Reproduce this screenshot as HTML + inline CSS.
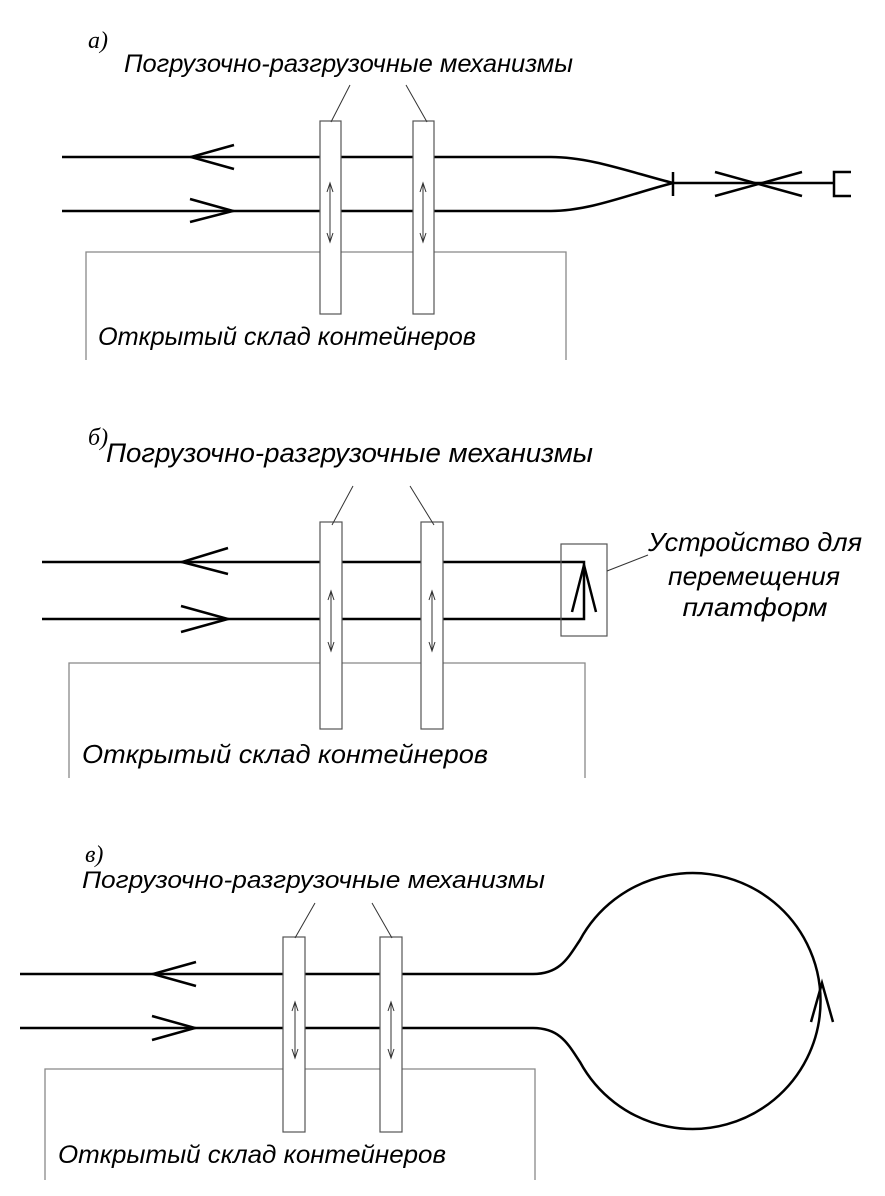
<!DOCTYPE html>
<html><head><meta charset="utf-8"><style>html,body{margin:0;padding:0;background:#fff}svg{display:block}</style></head>
<body>
<svg width="885" height="1196" viewBox="0 0 885 1196" xmlns="http://www.w3.org/2000/svg">
<g font-family="Liberation Sans, Arial, sans-serif" font-style="italic" fill="#000">
<text x="88" y="48" font-family="Liberation Serif, serif" font-size="24">а)</text>
<text x="124" y="72" font-size="25" textLength="449" lengthAdjust="spacingAndGlyphs">Погрузочно-разгрузочные механизмы</text>
<text x="98" y="345" font-size="25" textLength="378" lengthAdjust="spacingAndGlyphs">Открытый склад контейнеров</text>
<text x="88" y="445" font-family="Liberation Serif, serif" font-size="24">б)</text>
<text x="106" y="462" font-size="27" textLength="487" lengthAdjust="spacingAndGlyphs">Погрузочно-разгрузочные механизмы</text>
<text x="82" y="763" font-size="26" textLength="406" lengthAdjust="spacingAndGlyphs">Открытый склад контейнеров</text>
<text x="755" y="551" font-size="26" text-anchor="middle" textLength="214" lengthAdjust="spacingAndGlyphs">Устройство для</text>
<text x="754" y="585" font-size="26" text-anchor="middle" textLength="172" lengthAdjust="spacingAndGlyphs">перемещения</text>
<text x="755" y="616" font-size="26" text-anchor="middle" textLength="145" lengthAdjust="spacingAndGlyphs">платформ</text>
<text x="85" y="862" font-family="Liberation Serif, serif" font-size="24">в)</text>
<text x="82" y="888" font-size="24" textLength="463" lengthAdjust="spacingAndGlyphs">Погрузочно-разгрузочные механизмы</text>
<text x="58" y="1163" font-size="25" textLength="388" lengthAdjust="spacingAndGlyphs">Открытый склад контейнеров</text>
</g>

<g fill="none" stroke="#888" stroke-width="1.3">
<path d="M86,360 V252 H566 V360"/>
<path d="M69,778 V663 H585 V778"/>
<path d="M45,1180 V1069 H535 V1180"/>
</g>

<g fill="none" stroke="#000" stroke-width="2.5">
<path d="M62,157 H551 C590,157 630,172 673,183"/>
<path d="M62,211 H551 C590,211 630,194 673,183"/>
<path d="M673,183 H834"/>
<path d="M673,172 V196"/>
<path d="M715,172 L802,196 M715,196 L802,172"/>
<path d="M851,172 H834 V196 H851"/>
<path d="M234,145 L191,157 L234,169"/>
<path d="M190,199 L233,211 L190,222"/>
<path d="M42,562 H584 V619 H42"/>
<path d="M228,548 L182,562 L228,574"/>
<path d="M181,606 L228,619 L181,632"/>
<path d="M572,612 L584,565 L596,612"/>
<path d="M20,974 H533 C560,974 568,958 580,940 A128,128 0 1 1 580,1062 C568,1044 560,1028 533,1028 H20"/>
<path d="M196,962 L153,974 L196,986"/>
<path d="M152,1016 L195,1028 L152,1040"/>
<path d="M811,1022 L822,983 L833,1022"/>
</g>

<g fill="#fff" stroke="#555" stroke-width="1.2">
<rect x="320" y="121" width="21" height="193"/>
<rect x="413" y="121" width="21" height="193"/>
<rect x="320" y="522" width="22" height="207"/>
<rect x="421" y="522" width="22" height="207"/>
<rect x="283" y="937" width="22" height="195"/>
<rect x="380" y="937" width="22" height="195"/>
<rect x="561" y="544" width="46" height="92" fill="none"/>
</g>

<g fill="none" stroke="#333" stroke-width="1">
<path d="M331,122 L350,85 M406,85 L427,122"/>
<path d="M332,525 L353,486 M410,486 L434,525"/>
<path d="M295,938 L315,903 M372,903 L392,938"/>
<path d="M607,571 L648,555"/>
<path d="M330,183 V242 M327,192 L330,183 L333,192 M327,233 L330,242 L333,233"/>
<path d="M423,183 V242 M420,192 L423,183 L426,192 M420,233 L423,242 L426,233"/>
<path d="M331,591 V651 M328,600 L331,591 L334,600 M328,642 L331,651 L334,642"/>
<path d="M432,591 V651 M429,600 L432,591 L435,600 M429,642 L432,651 L435,642"/>
<path d="M295,1002 V1058 M292,1011 L295,1002 L298,1011 M292,1049 L295,1058 L298,1049"/>
<path d="M391,1002 V1058 M388,1011 L391,1002 L394,1011 M388,1049 L391,1058 L394,1049"/>
</g>
</svg>
</body></html>
